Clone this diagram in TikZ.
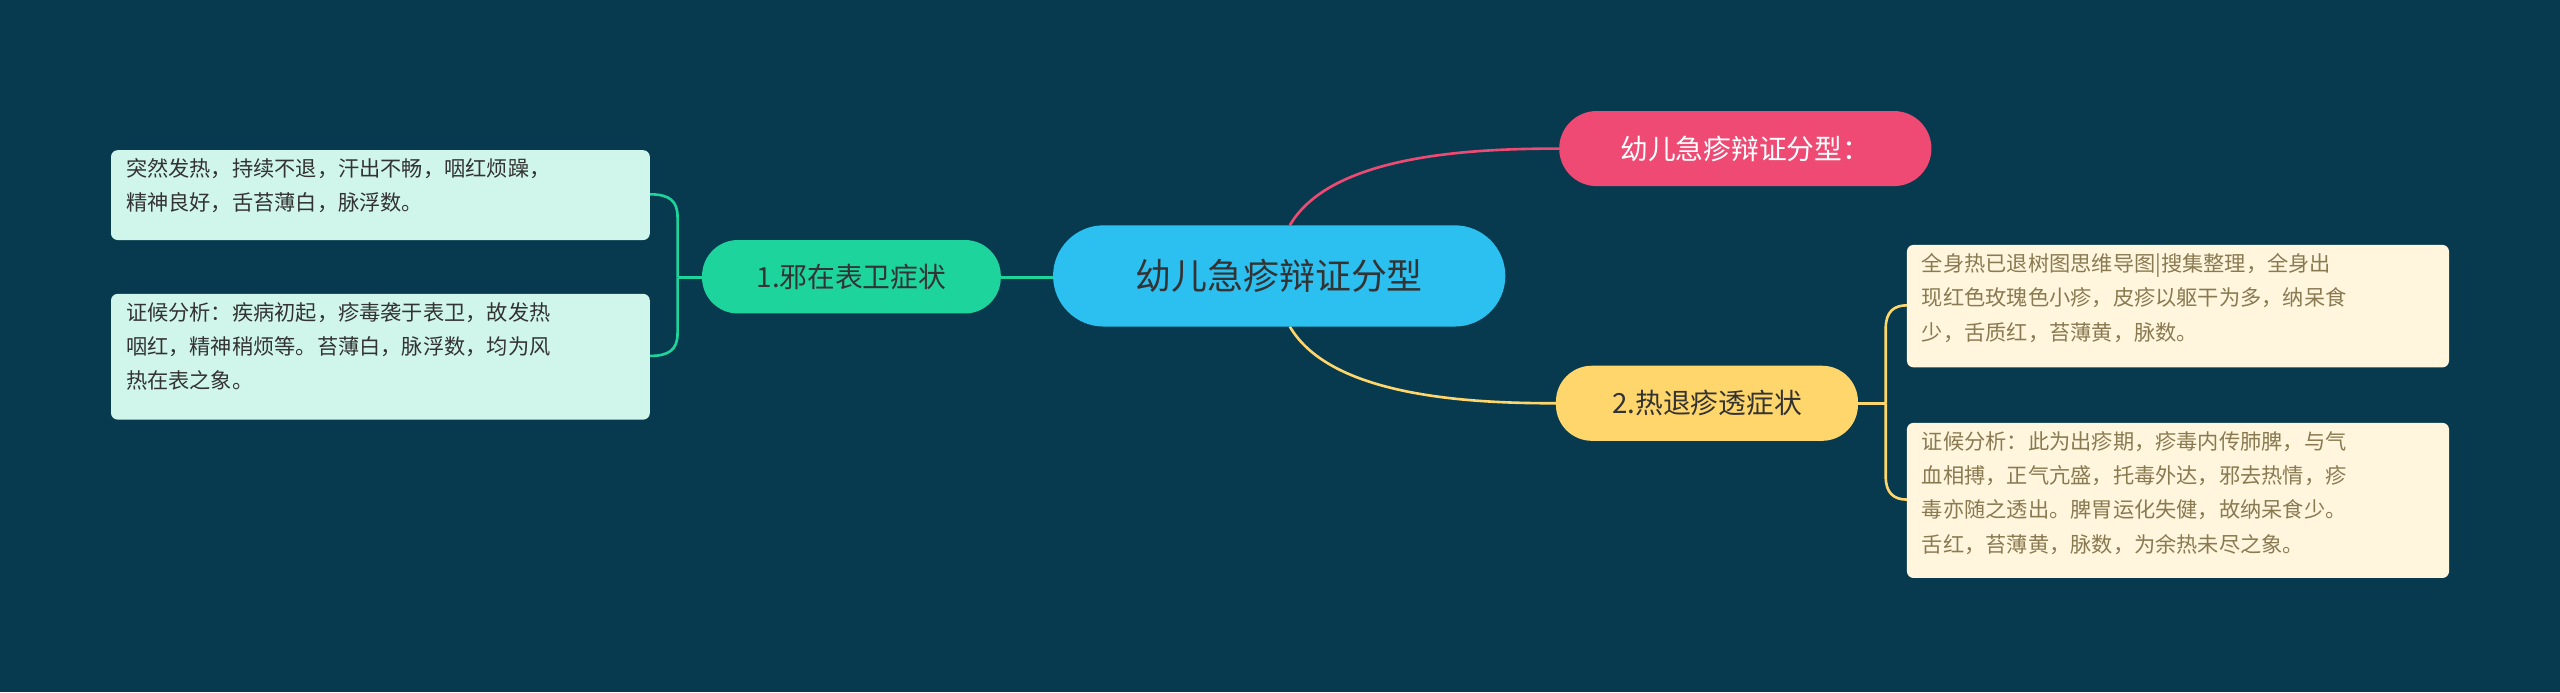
\documentclass[tikz,border=0pt]{standalone}
\usepackage{fontspec}
\setmainfont{Noto Sans CJK SC}
\begin{document}
\begin{tikzpicture}[x=1pt,y=-1pt,
  box/.style={rounded corners=#1,inner sep=0pt},
  leaf/.style={draw=none,rounded corners=4pt,align=left,font=\fontsize{13}{21}\selectfont,text=black!80,inner sep=0pt,anchor=north west,text width=320pt},
  ]
\definecolor{bg}{HTML}{073A4E}
\definecolor{cblue}{HTML}{2BC0EF}
\definecolor{cpink}{HTML}{EE4A73}
\definecolor{cgreen}{HTML}{1ED49D}
\definecolor{cyel}{HTML}{FFD66B}
\definecolor{lgreen}{HTML}{D0F6EB}
\definecolor{lyel}{HTML}{FFF6DD}
\fill[bg] (0,0) rectangle (1568,424);
\useasboundingbox (0,0) rectangle (1568,424);
% connectors
\coordinate (ct) at (790,138);
\coordinate (cb) at (790,200);
\draw[cpink,line width=1.6pt] (ct) .. controls (815,95) and (900,91) .. (955,91);
\draw[cyel,line width=1.6pt] (cb) .. controls (815,243) and (900,247) .. (953,247);
\draw[cgreen,line width=1.6pt] (613,170) -- (645,170);
\draw[cgreen,line width=1.6pt] (613,170) -- (415,170);
\draw[cgreen,line width=1.6pt] (415,170) -- (415,133) .. controls (415,123) and (410,119) .. (398,119);
\draw[cgreen,line width=1.6pt] (415,170) -- (415,204) .. controls (415,214) and (410,218) .. (398,218);
\draw[cyel,line width=1.6pt] (1138,247) -- (1155,247);
\draw[cyel,line width=1.6pt] (1155,247) -- (1155,201) .. controls (1155,191) and (1160,187) .. (1168,187);
\draw[cyel,line width=1.6pt] (1155,247) -- (1155,292) .. controls (1155,302) and (1160,306) .. (1168,306);
% main nodes
\fill[cblue,rounded corners=31pt] (645,138) rectangle (922,200);
\node[font=\fontsize{22}{22}\selectfont,text=black!80] (c) at (783.5,169) {幼儿急疹辩证分型};
\fill[cpink,rounded corners=23pt] (955,68) rectangle (1183,114);
\node[font=\fontsize{17}{17}\selectfont,text=white] (p) at (1069,91) {幼儿急疹辩证分型：};
\fill[cgreen,rounded corners=22pt] (430,147) rectangle (613,192);
\node[font=\fontsize{17}{17}\selectfont,text=black!80] (g) at (521.5,169.5) {1.邪在表卫症状};
\fill[cyel,rounded corners=22pt] (953,224) rectangle (1138,270);
\node[font=\fontsize{17}{17}\selectfont,text=black!80] (y) at (1045.5,247) {2.热退疹透症状};
% leaves
\fill[lgreen,rounded corners=4pt] (68,92) rectangle (398,147);
\node[leaf] (l1) at (77,97) {突然发热，持续不退，汗出不畅，咽红烦躁，\\精神良好，舌苔薄白，脉浮数。};
\fill[lgreen,rounded corners=4pt] (68,180) rectangle (398,257);
\node[leaf] (l2) at (77,185) {证候分析：疾病初起，疹毒袭于表卫，故发热\\咽红，精神稍烦等。苔薄白，脉浮数，均为风\\热在表之象。};
\fill[lyel,rounded corners=4pt] (1168,150) rectangle (1500,225);
\node[leaf,text=black!70!yellow!60!brown] (r1) at (1177,155) {全身热已退树图思维导图|搜集整理，全身出\\现红色玫瑰色小疹，皮疹以躯干为多，纳呆食\\少，舌质红，苔薄黄，脉数。};
\fill[lyel,rounded corners=4pt] (1168,259) rectangle (1500,354);
\node[leaf,text=black!70!yellow!60!brown] (r2) at (1177,264) {证候分析：此为出疹期，疹毒内传肺脾，与气\\血相搏，正气亢盛，托毒外达，邪去热情，疹\\毒亦随之透出。脾胃运化失健，故纳呆食少。\\舌红，苔薄黄，脉数，为余热未尽之象。};
\end{tikzpicture}
\end{document}
